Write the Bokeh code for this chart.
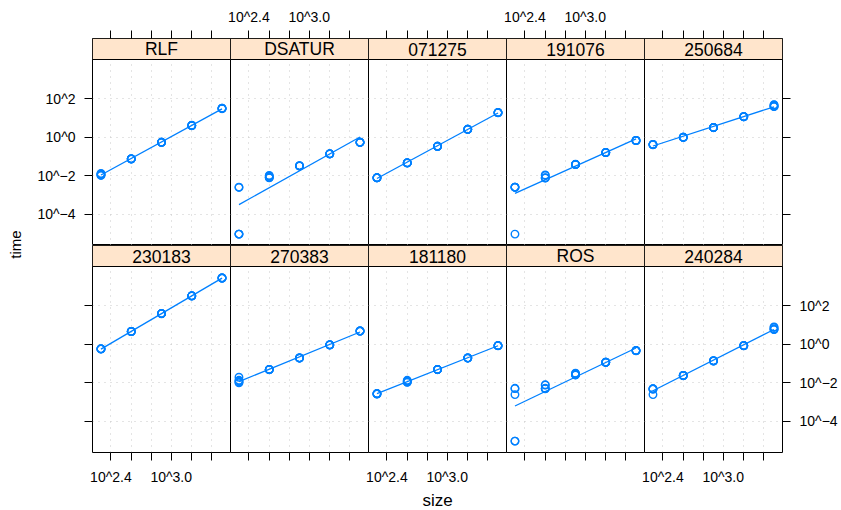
import numpy as np
from math import pi
from bokeh.plotting import figure
from bokeh.models import Range1d, LogAxis, FixedTicker, Grid, Label
from bokeh.layouts import row, column
from bokeh.embed import file_html
from bokeh.resources import INLINE
from bokeh.core.properties import value

# ---------------- data ----------------
panel_names = ["RLF", "DSATUR", "071275", "191076", "250684",
               "230183", "270383", "181180", "ROS", "240284"]
sizes = [200, 400, 800, 1600, 3200]

# time (s), five runs per size
time_RLF = [[0.0132, 0.0125, 0.0118, 0.0110, 0.0105],
            [0.076, 0.075, 0.077, 0.074, 0.076],
            [0.55, 0.54, 0.56, 0.55, 0.55],
            [4.1, 4.0, 4.2, 4.1, 4.1],
            [31.6, 30.5, 32.5, 31.0, 32.0]]
time_DSATUR = [[0.0026, 0.0025, 9.5e-6, 9.5e-6, 9.5e-6],
               [0.0105, 0.0098, 0.0082, 0.0079, 0.0085],
               [0.033, 0.033, 0.034, 0.032, 0.033],
               [0.138, 0.137, 0.139, 0.138, 0.138],
               [0.55, 0.54, 0.56, 0.55, 0.55]]
time_071275 = [[0.0079, 0.0080, 0.0078, 0.0079, 0.0081],
               [0.047, 0.046, 0.048, 0.047, 0.047],
               [0.34, 0.33, 0.35, 0.34, 0.34],
               [2.6, 2.55, 2.65, 2.6, 2.6],
               [19.0, 18.5, 19.5, 19.0, 19.2]]
time_191076 = [[0.0026, 0.0026, 0.0025, 0.0026, 9.5e-6],
               [0.0112, 0.0105, 0.0080, 0.0076, 0.0078],
               [0.039, 0.038, 0.040, 0.039, 0.039],
               [0.162, 0.160, 0.165, 0.162, 0.162],
               [0.68, 0.67, 0.69, 0.68, 0.68]]
time_250684 = [[0.42, 0.41, 0.43, 0.42, 0.42],
               [1.0, 0.98, 1.02, 1.0, 1.0],
               [3.2, 3.15, 3.25, 3.2, 3.2],
               [11.7, 11.5, 11.9, 11.7, 11.7],
               [49.0, 47.0, 40.0, 39.0, 41.0]]
time_230183 = [[0.575, 0.57, 0.58, 0.575, 0.575],
               [4.6, 4.55, 4.65, 4.6, 4.6],
               [39.0, 38.5, 39.5, 39.0, 39.0],
               [324.0, 320.0, 328.0, 324.0, 324.0],
               [2750.0, 2720.0, 2780.0, 2750.0, 2750.0]]
time_270383 = [[0.0195, 0.0135, 0.0100, 0.0110, 0.0125],
               [0.049, 0.048, 0.050, 0.049, 0.049],
               [0.195, 0.192, 0.198, 0.195, 0.195],
               [0.93, 0.92, 0.94, 0.93, 0.93],
               [4.9, 4.85, 4.95, 4.9, 4.9]]
time_181180 = [[0.0027, 0.0027, 0.0026, 0.0027, 0.0028],
               [0.0135, 0.0125, 0.0107, 0.0110, 0.0115],
               [0.049, 0.048, 0.050, 0.049, 0.049],
               [0.195, 0.192, 0.198, 0.195, 0.195],
               [0.85, 0.84, 0.86, 0.85, 0.85]]
time_ROS = [[0.0052, 0.0050, 0.00245, 9.5e-6, 9.5e-6],
            [0.0079, 0.0076, 0.0049, 0.0050, 0.0052],
            [0.0316, 0.030, 0.0257, 0.026, 0.027],
            [0.117, 0.115, 0.119, 0.117, 0.117],
            [0.47, 0.46, 0.48, 0.47, 0.47]]
time_240284 = [[0.0050, 0.0048, 0.00245, 0.0047, 0.0049],
               [0.024, 0.0235, 0.0245, 0.024, 0.024],
               [0.138, 0.136, 0.140, 0.138, 0.138],
               [0.85, 0.84, 0.86, 0.85, 0.85],
               [7.9, 7.5, 5.8, 6.0, 6.2]]

panel_times = [time_RLF, time_DSATUR, time_071275, time_191076, time_250684,
               time_230183, time_270383, time_181180, time_ROS, time_240284]

x_tick_exp = [2.4, 2.6, 2.8, 3.0, 3.2, 3.4]
x_tick_labels = ["10^2.4", "", "", "10^3.0", "", ""]
y_tick_exp = [2, 0, -2, -4]
y_tick_labels = ["10^2", "10^0", "10^\u22122", "10^\u22124"]

x_title = "size"
y_title = "time"

# ---------------- styling ----------------
BLUE = "#0080ff"
STRIP = "#ffe5cc"
FONT = "Liberation Sans"
GRID = "#c8c8c8"
PANEL_W, PANEL_H, STRIP_H = 138, 186, 21
TICK = 8
OVL = 12          # transparent overlap so edge tick labels are not clipped
TOP_B, BOT_B = 38, 32
YLAB_W, LEFT_B = 32, 60
XLAB_H = 26


def lim(v):
    v = np.asarray(v)
    lo, hi = v.min(), v.max()
    pad = 0.07 * (hi - lo)
    return lo - pad, hi + pad


xlo, xhi = lim(np.log10(sizes))
ylo, yhi = lim(np.log10([t for p in panel_times for s in p for t in s]))
strip_top = yhi + STRIP_H * (yhi - ylo) / PANEL_H

x_ticks = [10.0 ** e for e in x_tick_exp]
y_ticks = [10.0 ** e for e in y_tick_exp]


def log_axis(ticks, labels, show, standoff):
    overrides = {t: (l if show else "") for t, l in zip(ticks, labels)}
    return LogAxis(ticker=FixedTicker(ticks=ticks, minor_ticks=[]),
                   major_label_overrides=overrides,
                   axis_line_color=None, major_tick_in=0, major_tick_out=TICK,
                   major_tick_line_color="black", major_tick_line_width=1,
                   minor_tick_line_color=None,
                   major_label_text_font=FONT, major_label_text_font_size="14px",
                   major_label_text_color="black", major_label_standoff=standoff)


def make_panel(idx):
    r, c = divmod(idx, 5)
    ml = LEFT_B if c == 0 else OVL
    mr = OVL if c < 4 else 10
    mt = TOP_B if r == 0 else 0
    mb = 0 if r == 0 else BOT_B
    p = figure(frame_width=PANEL_W, frame_height=PANEL_H + STRIP_H,
               x_axis_type="log", y_axis_type="log",
               x_range=Range1d(10 ** xlo, 10 ** xhi),
               y_range=Range1d(10 ** ylo, 10 ** strip_top),
               x_axis_location=None, y_axis_location=None,
               toolbar_location=None, output_backend="svg",
               min_border_left=ml, min_border_right=mr,
               min_border_top=mt, min_border_bottom=mb,
               background_fill_color="white", border_fill_color=None,
               outline_line_color="black", outline_line_width=1,
               margin=(0, 0, 0, 0) if c == 0 else (0, 0, 0, -2 * OVL))
    p.center = []  # drop default grids

    p.add_layout(Grid(dimension=0, ticker=FixedTicker(ticks=x_ticks, minor_ticks=[]),
                      grid_line_color=GRID, grid_line_dash="1 5", grid_line_width=1))
    p.add_layout(Grid(dimension=1, ticker=FixedTicker(ticks=y_ticks, minor_ticks=[]),
                      grid_line_color=GRID, grid_line_dash="1 5", grid_line_width=1))

    # data
    times = panel_times[idx]
    xs = [s for s, runs in zip(sizes, times) for _ in runs]
    ys = [t for runs in times for t in runs]
    coef = np.polyfit(np.log10(xs), np.log10(ys), 1)
    xf = np.array([min(xs), max(xs)], dtype=float)
    yf = 10 ** np.polyval(coef, np.log10(xf))
    p.line(xf, yf, line_color=BLUE, line_width=1.3)
    p.scatter(xs, ys, marker="circle", size=7.5, fill_color=None,
              line_color=BLUE, line_width=1.4)

    # strip
    p.quad(left=[10 ** xlo], right=[10 ** xhi], bottom=[10 ** yhi], top=[10 ** strip_top],
           fill_color=STRIP, line_color="black", line_width=1)
    p.text(x=[10 ** ((xlo + xhi) / 2)], y=[10 ** ((yhi + strip_top) / 2)],
           text=[panel_names[idx]], text_align="center", text_baseline="middle",
           text_font=value(FONT), text_font_size="17.5px", text_color="black")

    # axes (lattice alternating layout)
    if r == 0:
        p.add_layout(log_axis(x_ticks, x_tick_labels, c in (1, 3), 6), "above")
        if c == 0:
            p.add_layout(log_axis(y_ticks, y_tick_labels, True, 9), "left")
        if c == 4:
            p.add_layout(log_axis(y_ticks, y_tick_labels, False, 9), "right")
    else:
        p.add_layout(log_axis(x_ticks, x_tick_labels, c in (0, 2, 4), 8), "below")
        if c == 0:
            p.add_layout(log_axis(y_ticks, y_tick_labels, False, 9), "left")
        if c == 4:
            p.add_layout(log_axis(y_ticks, y_tick_labels, True, 9), "right")
    return p


panels = [make_panel(i) for i in range(10)]

ROWS_H = TOP_B + 2 * (PANEL_H + STRIP_H) + BOT_B

ylab = figure(width=YLAB_W, height=ROWS_H, x_range=(0, YLAB_W), y_range=(0, ROWS_H),
              x_axis_location=None, y_axis_location=None, toolbar_location=None,
              output_backend="svg", min_border=0, outline_line_color=None,
              background_fill_color=None, border_fill_color=None)
ylab.center = []
ylab.add_layout(Label(x=15, y=ROWS_H - 244, text=y_title, angle=pi / 2,
                      text_align="center", text_baseline="middle",
                      text_font=FONT, text_font_size="15px", text_color="black"))

xlab = figure(frame_width=5 * PANEL_W, frame_height=XLAB_H, x_range=(0, 1), y_range=(0, XLAB_H),
              x_axis_location=None, y_axis_location=None, toolbar_location=None,
              output_backend="svg", min_border_left=YLAB_W + LEFT_B, min_border_right=10,
              min_border_top=0, min_border_bottom=0, outline_line_color=None,
              background_fill_color=None, border_fill_color=None)
xlab.center = []
xlab.add_layout(Label(x=0.5, y=13, text=x_title, text_align="center",
                      text_baseline="alphabetic", text_font=FONT,
                      text_font_size="17px", text_color="black"))

layout = column(row(ylab, column(row(*panels[:5]), row(*panels[5:]))), xlab)

open("out.html", "w").write(file_html(layout, INLINE))
